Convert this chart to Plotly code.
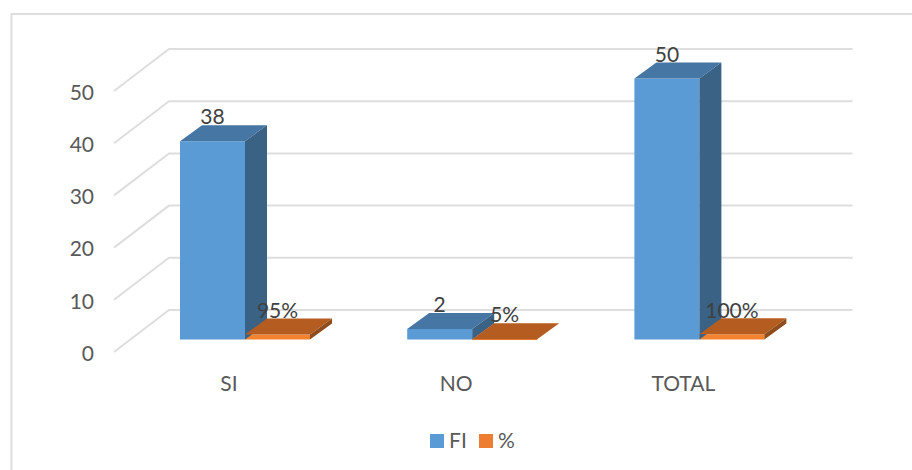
import plotly.graph_objects as go

categories = ["SI", "NO", "TOTAL"]
fi_values = [38, 2, 50]
pct_values = [0.95, 0.05, 1.0]
fi_labels = ["38", "2", "50"]
pct_labels = ["95%", "5%", "100%"]
y_ticks = [0, 10, 20, 30, 40, 50]

W, H = 912, 470
PX_X = 227.2          # pixels per category
PX_Y = 5.22           # pixels per value unit
ORIGIN_PX = 245.0     # pixel x of first category centre
ORIGIN_PY = 339.5     # pixel y of value 0 at the bar front


def xd(dpx):
    return dpx / PX_X


def yd(dpx):
    return dpx / PX_Y


def px(p):
    return (p - ORIGIN_PX) / PX_X


def py(p):
    return (ORIGIN_PY - p) / PX_Y


x_range = [px(0), px(W)]
y_range = [py(H), py(0)]

BAR_W = xd(65)
DX, DY = xd(22), yd(16)
FONT = "Lato, Carlito, Calibri, sans-serif"
GRID = "#dedede"
FS = 21

series = [
    ("FI", fi_values, fi_labels, -BAR_W / 2, "#5B9BD5", "#4676A3", "#396285", "#5B9BD5"),
    ("%", pct_values, pct_labels, BAR_W / 2, "#F4832F", "#B55D20", "#8F4C1C", "#ED7D31"),
]

fig = go.Figure()

# Front faces
for name, vals, _, off, front, _, _, _ in series:
    fig.add_bar(x=list(range(len(categories))), y=vals, name=name, showlegend=False,
                marker=dict(color=front, line=dict(width=0)), hoverinfo="skip")

# Top and side faces derived from the values
for name, vals, _, off, _, top, side, _ in series:
    for i, v in enumerate(vals):
        c = i + off
        x0, x1 = c - BAR_W / 2, c + BAR_W / 2
        fig.add_scatter(x=[x0, x1, x1 + DX, x0 + DX, x0],
                        y=[v, v, v + DY, v + DY, v],
                        mode="lines", fill="toself", fillcolor=top,
                        line=dict(width=0, color=top), showlegend=False, hoverinfo="skip")
        fig.add_scatter(x=[x1, x1 + DX, x1 + DX, x1, x1],
                        y=[0, DY, v + DY, v, 0],
                        mode="lines", fill="toself", fillcolor=side,
                        line=dict(width=0, color=side), showlegend=False, hoverinfo="skip")

# Data labels
for name, vals, labels, off, *_ in series:
    fig.add_scatter(x=[i + off for i in range(len(vals))],
                    y=[v + yd(22) for v in vals],
                    mode="text", text=labels, textposition="middle center",
                    textfont=dict(family=FONT, size=FS, color="#404040"),
                    showlegend=False, hoverinfo="skip")

# Value axis labels
fig.add_scatter(x=[px(94)] * len(y_ticks),
                y=[t + yd(-16) for t in y_ticks],
                mode="text", text=[str(t) for t in y_ticks], textposition="middle left",
                textfont=dict(family=FONT, size=FS, color="#595959"),
                showlegend=False, hoverinfo="skip")

# Category labels
fig.add_scatter(x=[i - xd(16) for i in range(len(categories))],
                y=[yd(-46.5)] * len(categories),
                mode="text", text=categories, textposition="middle center",
                textfont=dict(family=FONT, size=FS, color="#595959"),
                showlegend=False, hoverinfo="skip")

# Legend keys
for (name, *_rest), kx, tx in zip(series, [437, 486], [449, 498]):
    key = _rest[-1]
    fig.add_scatter(x=[px(kx)], y=[py(441)], mode="markers", name=name,
                    marker=dict(symbol="square", size=14, color=key, line=dict(width=0)),
                    showlegend=False, hoverinfo="skip")
    fig.add_scatter(x=[px(tx)], y=[py(443)], mode="text", text=[name],
                    textposition="middle right",
                    textfont=dict(family=FONT, size=FS, color="#595959"),
                    showlegend=False, hoverinfo="skip")

# Walls: gridlines on the floor side and the back wall
shapes = []
xf, xb, xr = px(114), px(169), px(852.5)
for t in y_ticks:
    yf, yb = t + yd(-12.5), t + yd(29.5)
    shapes.append(dict(type="path", layer="below", xref="x", yref="y",
                       path=f"M{xf},{yf} L{xb},{yb} L{xr},{yb}",
                       line=dict(color=GRID, width=2)))

# Chart frame
shapes.append(dict(type="path", layer="below", xref="paper", yref="paper",
                   path=f"M{11.5/W},0 L{11.5/W},{1-14/H} L1,{1-14/H}",
                   line=dict(color=GRID, width=2)))

fig.update_layout(
    width=W, height=H, margin=dict(l=0, r=0, t=0, b=0),
    paper_bgcolor="white", plot_bgcolor="white", showlegend=False,
    barmode="group", bargap=1 - 2 * BAR_W, bargroupgap=0,
    xaxis=dict(range=x_range, visible=False, fixedrange=True),
    yaxis=dict(range=y_range, visible=False, fixedrange=True),
    shapes=shapes,
)

fig.write_html("out.html", config={"displayModeBar": False},
               post_script="document.body.style.margin='0';")
